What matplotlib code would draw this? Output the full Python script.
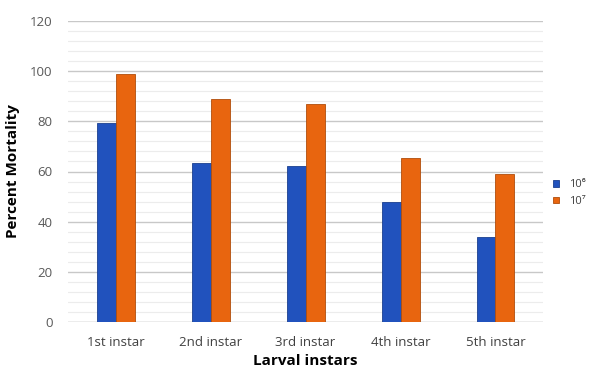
import numpy as np
import matplotlib
matplotlib.use("Agg")
import matplotlib.pyplot as plt
from matplotlib.ticker import MultipleLocator

plt.rcParams['font.family'] = ['Open Sans', 'DejaVu Sans']

instars = ['1st instar', '2nd instar', '3rd instar', '4th instar', '5th instar']
low_dose = [79.5, 63.5, 62, 48, 34]
high_dose = [99, 89, 87, 65.5, 59]
series_names = ['10⁶', '10⁷']
yticks = [0, 20, 40, 60, 80, 100, 120]

fig = plt.figure(figsize=(5.91, 3.69), dpi=100)
ax = fig.add_axes([68/591, 1-322/369, 475/591, 301/369])

x = np.arange(len(instars))
w = 0.2
b1 = ax.bar(x - w/2, low_dose, w, color='#2152bd', edgecolor='#1a3f8f', linewidth=0.6, label=series_names[0], zorder=3)
b2 = ax.bar(x + w/2, high_dose, w, color='#e8650f', edgecolor='#b04d0c', linewidth=0.6, label=series_names[1], zorder=3)

ax.set_xlim(-0.5, len(instars) - 0.5)
ax.set_ylim(0, 120)
ax.set_yticks(yticks)
ax.yaxis.set_minor_locator(MultipleLocator(4))
ax.grid(axis='y', which='major', color='#c8c8c8', linewidth=1.0, zorder=0)
ax.grid(axis='y', which='minor', color='#ececec', linewidth=0.8, zorder=0)
for s in ax.spines.values():
    s.set_visible(False)
ax.axhline(0, color='#d0d0d0', linewidth=1.0, zorder=1)

ax.set_xticks(x)
ax.set_xticklabels(instars, fontsize=9.5, color='#404040')
ax.tick_params(axis='both', which='both', length=0)
ax.tick_params(axis='x', pad=10)
ax.tick_params(axis='y', pad=11, labelsize=9.5, labelcolor='#595959')

ax.set_xlabel('Larval instars', fontsize=11, fontweight='bold', labelpad=4)
ax.set_ylabel('Percent Mortality', fontsize=11, fontweight='bold', labelpad=7)

fig.legend(handles=[b1, b2], labels=series_names, loc='upper left',
           bbox_to_anchor=(550/591, 1-176/369), frameon=False, fontsize=8,
           handlelength=0.5, handleheight=0.5, handletextpad=0.9, labelspacing=0.5,
           labelcolor='#404040', borderaxespad=0, borderpad=0.3)

fig.savefig('out.png', dpi=100)
